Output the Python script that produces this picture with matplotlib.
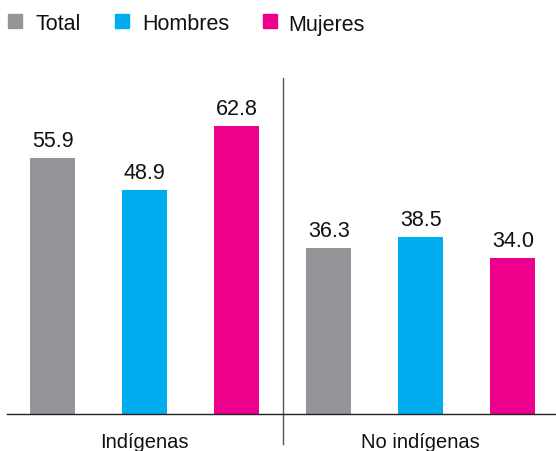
import matplotlib
matplotlib.use("Agg")
import matplotlib.pyplot as plt
from matplotlib.patches import Rectangle

plt.rcParams['font.family'] = ['Liberation Sans', 'DejaVu Sans']

groups = ["Indígenas", "No indígenas"]
series = ["Total", "Hombres", "Mujeres"]
values = {
    "Total": [55.9, 36.3],
    "Hombres": [48.9, 38.5],
    "Mujeres": [62.8, 34.0],
}
colors = {"Total": "#939598", "Hombres": "#00AEEF", "Mujeres": "#EC008C"}

W, H = 556, 452
fig = plt.figure(figsize=(W/100, H/100), dpi=100)
ax_left, ax_right, ax_bottom, ax_top = 7, 556, 415, 79
ax = fig.add_axes([ax_left/W, 1 - ax_bottom/H, (ax_right-ax_left)/W, (ax_bottom-ax_top)/H])

bw = 45/92
for gi, g in enumerate(groups):
    for si, s in enumerate(series):
        x = gi*3 + si
        v = values[s][gi]
        ax.bar(x, v, width=bw, color=colors[s])
        ax.annotate(f"{v:.1f}", (x, v), xytext=(0, 8.6), textcoords="offset points",
                    ha="center", va="baseline", fontsize=15.5, color="#111111")

ax.set_xlim(-0.495, 5.47)
ax.set_ylim(0, (ax_bottom-ax_top)/(288/62.8))
for sp in ["top", "right", "left"]:
    ax.spines[sp].set_visible(False)
ax.spines["bottom"].set_linewidth(1.0)
ax.spines["bottom"].set_color("#222222")
ax.set_yticks([])
ax.set_xticks([])
for gi, g in enumerate(groups):
    ax.text(gi*3 + 1, -(448-415)/(288/62.8), g, ha="center", va="baseline",
            fontsize=14.5, color="#111111", clip_on=False)

ax.axvline(2.5, ymin=-30/336, ymax=1.0, color="#555555", lw=1.0, clip_on=False)

# legend
sq_x = [8, 115, 263]
tx_x = [36, 142, 288]
for s, sx, tx in zip(series, sq_x, tx_x):
    fig.patches.append(Rectangle((sx/W, 1 - 29/H), 14/W, 14/H, transform=fig.transFigure,
                                 color=colors[s]))
    fig.text(tx/W, 1 - 22.5/H, s, ha="left", va="center_baseline", fontsize=15.5, color="#111111")

fig.savefig("out.png", dpi=100)
